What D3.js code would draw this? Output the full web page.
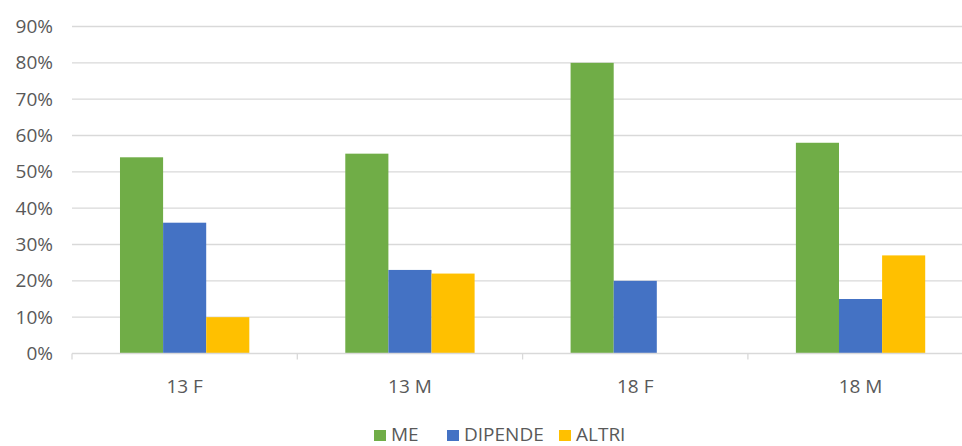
<!DOCTYPE html>
<html>
<head>
<meta charset="utf-8">
<script src="https://cdn.jsdelivr.net/npm/d3@7"></script>
<style>
  body { margin: 0; background: #fff; }
  text { font-family: "Open Sans", "Liberation Sans", sans-serif; fill: #595959; }
</style>
</head>
<body>
<script>
"use strict";
const categories = ["13 F", "13 M", "18 F", "18 M"]
const seriesNames = ["ME", "DIPENDE", "ALTRI"]
const meValues = [54, 55, 80, 58]
const dipendeValues = [36, 23, 20, 15]
const altriValues = [10, 22, 0, 27]
const yTicks = [0, 10, 20, 30, 40, 50, 60, 70, 80, 90]

const colors = { "ME": "#70AD47", "DIPENDE": "#4472C4", "ALTRI": "#FFC000" }

const width = 962, height = 446
const svg = d3.select("body").append("svg")
    .attr("width", width)
    .attr("height", height)

// the plot area runs past the right edge, like the cropped original
const left = 72, step = 225.3
const x0 = d3.scaleBand()
    .domain(categories)
    .range([left, left + step * categories.length])
    .paddingInner(0.426)
    .paddingOuter(0.213)
const x1 = d3.scaleBand()
    .domain(seriesNames)
    .range([0, x0.bandwidth()])
const y = d3.scaleLinear()
    .domain([0, 90])
    .range([353.5, 26.5])

// gridlines
svg.append("g").selectAll("line")
    .data(yTicks.slice(1))
    .enter().append("line")
      .attr("x1", left).attr("x2", width)
      .attr("y1", d => y(d)).attr("y2", d => y(d))
      .attr("stroke", "#d9d9d9").attr("stroke-width", 1.3)

// y labels
const yAxis = d3.axisLeft(y).tickValues(yTicks).tickFormat(d => d + "%").tickSize(0).tickPadding(0)
svg.append("g")
    .attr("transform", "translate(53,0)")
    .call(yAxis)
    .call(g => g.select(".domain").remove())
    .selectAll("text")
      .style("font-size", "19px")
      .style("font-family", "'Open Sans', sans-serif")
      .style("fill", "#595959")

// bars
const rows = categories.map((c, i) => ({
    cat: c,
    vals: [
        { key: "ME", v: meValues[i] },
        { key: "DIPENDE", v: dipendeValues[i] },
        { key: "ALTRI", v: altriValues[i] }
    ]
}))
svg.append("g").selectAll("g")
    .data(rows)
    .enter().append("g")
      .attr("transform", d => `translate(${x0(d.cat)},0)`)
    .selectAll("rect")
    .data(d => d.vals.filter(v => v.v > 0))
    .enter().append("rect")
      .attr("x", d => x1(d.key))
      .attr("width", x1.bandwidth())
      .attr("y", d => y(d.v))
      .attr("height", d => y(0) - y(d.v))
      .attr("fill", d => colors[d.key])

// x axis line + category dividers
const xAxisG = svg.append("g")
xAxisG.append("line")
    .attr("x1", left).attr("x2", width)
    .attr("y1", y(0)).attr("y2", y(0))
    .attr("stroke", "#d9d9d9").attr("stroke-width", 1.5)
xAxisG.selectAll(".tk")
    .data(d3.range(categories.length + 1))
    .enter().append("line")
      .attr("x1", i => left + i * step).attr("x2", i => left + i * step)
      .attr("y1", y(0)).attr("y2", y(0) + 6)
      .attr("stroke", "#d9d9d9").attr("stroke-width", 1.3)
xAxisG.selectAll(".lbl")
    .data(categories)
    .enter().append("text")
      .attr("x", d => x0(d) + x0.bandwidth() / 2)
      .attr("y", 393)
      .attr("text-anchor", "middle")
      .style("font-size", "19px")
      .text(d => d)

// legend
const legendX = [374, 447, 559]
const legend = svg.append("g").selectAll("g")
    .data(seriesNames)
    .enter().append("g")
      .attr("transform", (d, i) => `translate(${legendX[i]},0)`)
legend.append("rect")
    .attr("x", 0).attr("y", 430)
    .attr("width", 12).attr("height", 11)
    .attr("fill", d => colors[d])
legend.append("text")
    .attr("x", 17).attr("y", 440.5)
    .style("font-size", "19px")
    .text(d => d)
</script>
</body>
</html>
